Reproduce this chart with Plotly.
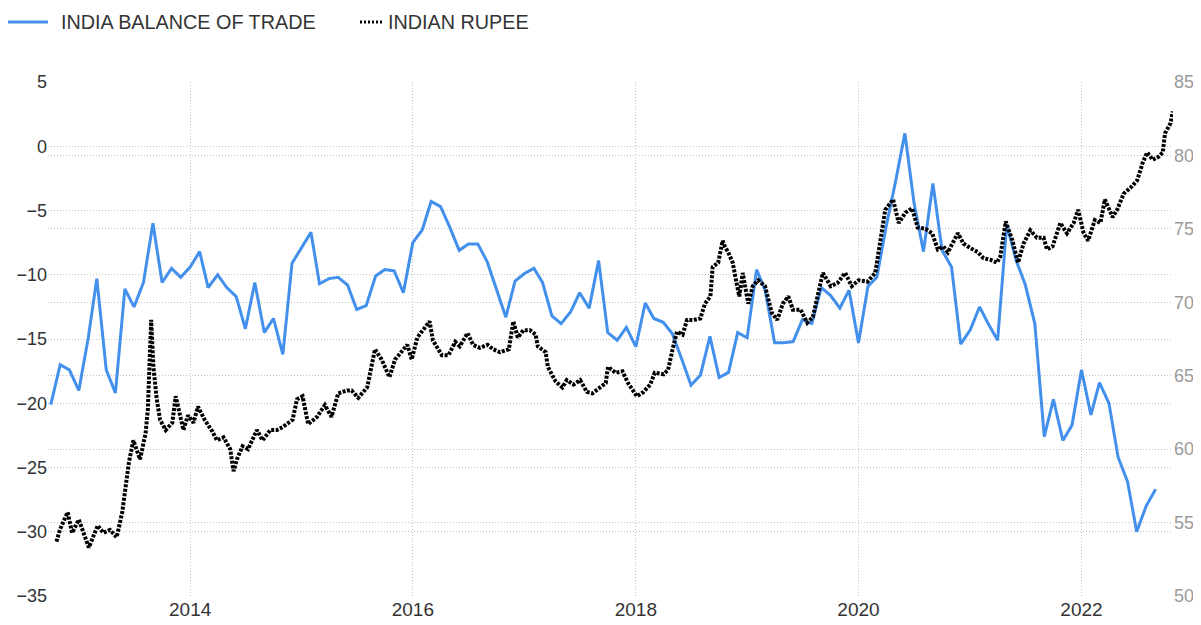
import pandas as pd
import plotly.graph_objects as go

# India balance of trade (USD bn), monthly, Oct 2012 .. Sep 2022
trade_start = "2012-10-01"
trade_values = [
    -20.1, -17.0, -17.4,
    -19.0, -14.9, -10.3, -17.4, -19.2, -11.1, -12.5, -10.6, -6.0, -10.6, -9.5, -10.2,
    -9.4, -8.2, -11.0, -10.0, -11.0, -11.7, -14.2, -10.6, -14.5, -13.4, -16.2, -9.1,
    -7.9, -6.7, -10.7, -10.3, -10.2, -10.8, -12.7, -12.4, -10.1, -9.6, -9.7, -11.4,
    -7.5, -6.5, -4.3, -4.7, -6.3, -8.1, -7.6, -7.6, -9.0, -11.1, -13.3, -10.5,
    -9.9, -9.5, -10.6, -13.2, -13.8, -12.9, -11.4, -12.6, -8.9, -14.5, -15.1, -14.1,
    -15.6, -12.2, -13.4, -13.7, -14.6, -16.6, -18.6, -17.8, -14.8, -18.0, -17.6, -14.5,
    -14.9, -9.6, -11.2, -15.3, -15.3, -15.2, -13.5, -13.8, -11.0, -11.6, -12.6, -11.2,
    -15.3, -10.9, -10.2, -6.2, -2.8, 1.0, -4.4, -8.2, -2.9, -8.1, -9.4, -15.4,
    -14.3, -12.5, -13.8, -15.1, -6.1, -8.9, -10.8, -13.8, -22.6, -19.7, -22.9, -21.7,
    -17.4, -20.9, -18.4, -20.0, -24.2, -26.1, -30.0, -28.0, -26.7,
]

# Indian rupee per USD, sampled along the curve (time as fractional year)
rupee_time = [
    2012.80, 2012.83, 2012.90, 2012.94, 2013.00, 2013.04, 2013.09, 2013.17, 2013.22, 2013.28,
    2013.34, 2013.39, 2013.43, 2013.45, 2013.49, 2013.55, 2013.60, 2013.62, 2013.65, 2013.67,
    2013.70, 2013.73, 2013.78, 2013.84, 2013.87, 2013.91, 2013.94, 2013.98, 2014.03, 2014.07,
    2014.13, 2014.20, 2014.24, 2014.30, 2014.36, 2014.39, 2014.42, 2014.47, 2014.52, 2014.60,
    2014.65, 2014.72, 2014.78, 2014.83, 2014.92, 2014.96, 2015.01, 2015.06, 2015.14, 2015.21,
    2015.27, 2015.33, 2015.41, 2015.45, 2015.51, 2015.59, 2015.62, 2015.66, 2015.72, 2015.79,
    2015.84, 2015.90, 2015.95, 2015.99, 2016.04, 2016.09, 2016.15, 2016.18, 2016.22, 2016.26,
    2016.32, 2016.38, 2016.42, 2016.49, 2016.54, 2016.60, 2016.67, 2016.72, 2016.78, 2016.86,
    2016.90, 2016.94, 2016.99, 2017.05, 2017.10, 2017.12, 2017.19, 2017.21, 2017.28, 2017.34,
    2017.38, 2017.44, 2017.50, 2017.56, 2017.61, 2017.68, 2017.73, 2017.75, 2017.82, 2017.88,
    2017.93, 2018.01, 2018.07, 2018.13, 2018.17, 2018.25, 2018.29, 2018.33, 2018.37, 2018.42,
    2018.46, 2018.52, 2018.58, 2018.62, 2018.67, 2018.69, 2018.74, 2018.78, 2018.80, 2018.83,
    2018.87, 2018.91, 2018.93, 2018.96, 2019.01, 2019.05, 2019.10, 2019.16, 2019.22, 2019.27,
    2019.32, 2019.37, 2019.41, 2019.48, 2019.54, 2019.59, 2019.64, 2019.68, 2019.75, 2019.81,
    2019.88, 2019.94, 2020.00, 2020.08, 2020.15, 2020.19, 2020.24, 2020.31, 2020.36, 2020.42,
    2020.48, 2020.53, 2020.60, 2020.66, 2020.71, 2020.76, 2020.80, 2020.89, 2020.94, 2021.00,
    2021.07, 2021.12, 2021.18, 2021.24, 2021.27, 2021.32, 2021.38, 2021.43, 2021.48, 2021.54,
    2021.60, 2021.66, 2021.69, 2021.74, 2021.81, 2021.87, 2021.93, 2021.97, 2022.02, 2022.06,
    2022.12, 2022.17, 2022.21, 2022.28, 2022.32, 2022.38, 2022.44, 2022.50, 2022.55, 2022.59,
    2022.64, 2022.69, 2022.73, 2022.75, 2022.80, 2022.82,
]
rupee_values = [
    53.7, 54.5, 55.7, 54.3, 55.2, 54.3, 53.3, 54.8, 54.3, 54.5,
    54.0, 55.7, 57.9, 59.1, 60.6, 59.3, 61.1, 62.7, 68.8, 65.6,
    63.4, 62.0, 61.3, 61.8, 63.6, 62.2, 61.3, 62.3, 61.8, 62.9,
    62.0, 61.2, 60.6, 60.8, 60.0, 58.5, 59.3, 60.2, 60.0, 61.3,
    60.6, 61.3, 61.3, 61.5, 62.0, 63.4, 63.6, 61.7, 62.2, 63.0,
    62.2, 63.8, 64.0, 64.0, 63.5, 64.2, 65.2, 66.8, 66.1, 64.9,
    66.1, 66.6, 67.1, 66.1, 67.6, 68.1, 68.7, 67.4, 66.9, 66.4,
    66.4, 67.3, 67.0, 67.9, 67.1, 66.9, 67.1, 66.8, 66.6, 66.8,
    68.7, 67.6, 68.1, 68.1, 67.8, 67.0, 66.6, 65.6, 64.6, 64.2,
    64.7, 64.4, 64.7, 63.9, 63.8, 64.2, 64.5, 65.6, 65.2, 65.3,
    64.5, 63.6, 63.9, 64.4, 65.2, 65.1, 65.4, 66.8, 68.0, 67.8,
    68.8, 68.8, 68.9, 69.9, 70.4, 72.4, 72.7, 74.2, 73.8, 73.4,
    72.7, 71.1, 70.4, 72.0, 69.9, 71.1, 71.5, 71.1, 69.3, 68.8,
    69.9, 70.4, 69.5, 69.5, 68.6, 69.0, 70.8, 72.0, 71.1, 71.3,
    72.0, 71.1, 71.5, 71.4, 72.0, 73.8, 76.3, 77.0, 75.4, 76.1,
    76.4, 75.1, 75.0, 74.7, 73.6, 73.8, 73.4, 74.7, 74.0, 73.7,
    73.4, 73.0, 72.9, 72.7, 73.1, 75.5, 74.2, 72.7, 74.0, 74.9,
    74.4, 74.4, 73.6, 73.8, 75.4, 74.7, 75.4, 76.3, 74.7, 74.2,
    75.6, 75.4, 77.0, 75.8, 76.3, 77.4, 77.8, 78.3, 79.5, 80.2,
    79.7, 79.9, 80.2, 81.5, 82.2, 83.0,
]

series_names = ["INDIA BALANCE OF TRADE", "INDIAN RUPEE"]
left_ticks = [5, 0, -5, -10, -15, -20, -25, -30, -35]
right_ticks = [85, 80, 75, 70, 65, 60, 55, 50]


def frac_year_to_date(t):
    year = int(t)
    start = pd.Timestamp(year=year, month=1, day=1)
    end = pd.Timestamp(year=year + 1, month=1, day=1)
    return start + (end - start) * (t - year)


trade_dates = pd.date_range(trade_start, periods=len(trade_values), freq="MS")
rupee_dates = [frac_year_to_date(t) for t in rupee_time]

BLUE = "#4290ec"
GRID = "#c4c4c4"
GRID_DASH = "1px,2px"
FONT = "Liberation Sans, Arial, sans-serif"
TXT = "#333333"

# the page body adds an 8px margin at top/left, so the figure is sized to fit
PAGE_OFF = 8
W, H = 1201 - PAGE_OFF, 625 - PAGE_OFF
ML, MR, MT, MB = 48 - PAGE_OFF, 28, 82 - PAGE_OFF, 29
PW, PH = W - ML - MR, H - MT - MB


def px_x(p):
    # page pixel -> paper fraction
    return (p - PAGE_OFF - ML) / PW


def px_y(p):
    return (H - MB - (p - PAGE_OFF)) / PH


fig = go.Figure()
fig.add_trace(go.Scatter(
    x=trade_dates, y=trade_values, mode="lines", name=series_names[0],
    line=dict(color=BLUE, width=3), yaxis="y", showlegend=False,
))
fig.add_trace(go.Scatter(
    x=rupee_dates, y=rupee_values, mode="lines", name=series_names[1],
    line=dict(color="black", width=4, dash="3px,1.5px"), yaxis="y2",
    showlegend=False,
))

# legend drawn by hand (matching the original's short dotted key)
leg_y = px_y(22)
shapes = [
    dict(type="line", xref="paper", yref="paper", x0=px_x(8), x1=px_x(48),
         y0=leg_y, y1=leg_y, line=dict(color=BLUE, width=3)),
    dict(type="line", xref="paper", yref="paper", x0=px_x(360), x1=px_x(383),
         y0=leg_y, y1=leg_y, line=dict(color="black", width=3, dash="2px,2px")),
]
annotations = [
    dict(text=series_names[0], xref="paper", yref="paper", x=px_x(59), y=leg_y,
         xanchor="left", yanchor="middle", showarrow=False,
         font=dict(family=FONT, size=19.8, color=TXT)),
    dict(text=series_names[1], xref="paper", yref="paper", x=px_x(386), y=leg_y,
         xanchor="left", yanchor="middle", showarrow=False,
         font=dict(family=FONT, size=19.8, color=TXT)),
]

fig.update_layout(
    width=W, height=H,
    margin=dict(l=ML, r=MR, t=MT, b=MB, autoexpand=False),
    paper_bgcolor="white", plot_bgcolor="white",
    font=dict(family=FONT, size=18, color=TXT),
    showlegend=False,
    shapes=shapes, annotations=annotations,
    xaxis=dict(
        type="date", automargin=False,
        range=["2012-09-22", "2022-10-28"],
        tick0="2014-01-01", dtick="M24", tickformat="%Y",
        showgrid=True, gridcolor=GRID, griddash=GRID_DASH, gridwidth=1,
        showline=False, zeroline=False, ticks="",
        tickfont=dict(family=FONT, size=19, color=TXT),
    ),
    yaxis=dict(
        range=[-35, 5], tickvals=left_ticks, automargin=False,
        showgrid=True, gridcolor=GRID, griddash=GRID_DASH, gridwidth=1,
        zeroline=False, showline=False, ticks="",
        tickfont=dict(family=FONT, size=18, color=TXT),
    ),
    yaxis2=dict(
        range=[50, 85], tickvals=right_ticks, overlaying="y", side="right",
        automargin=False,
        showgrid=True, gridcolor=GRID, griddash=GRID_DASH, gridwidth=1,
        zeroline=False, showline=False, ticks="",
        tickfont=dict(family=FONT, size=18, color="#9a9a9a"),
    ),
)

fig.write_html("out.html")
